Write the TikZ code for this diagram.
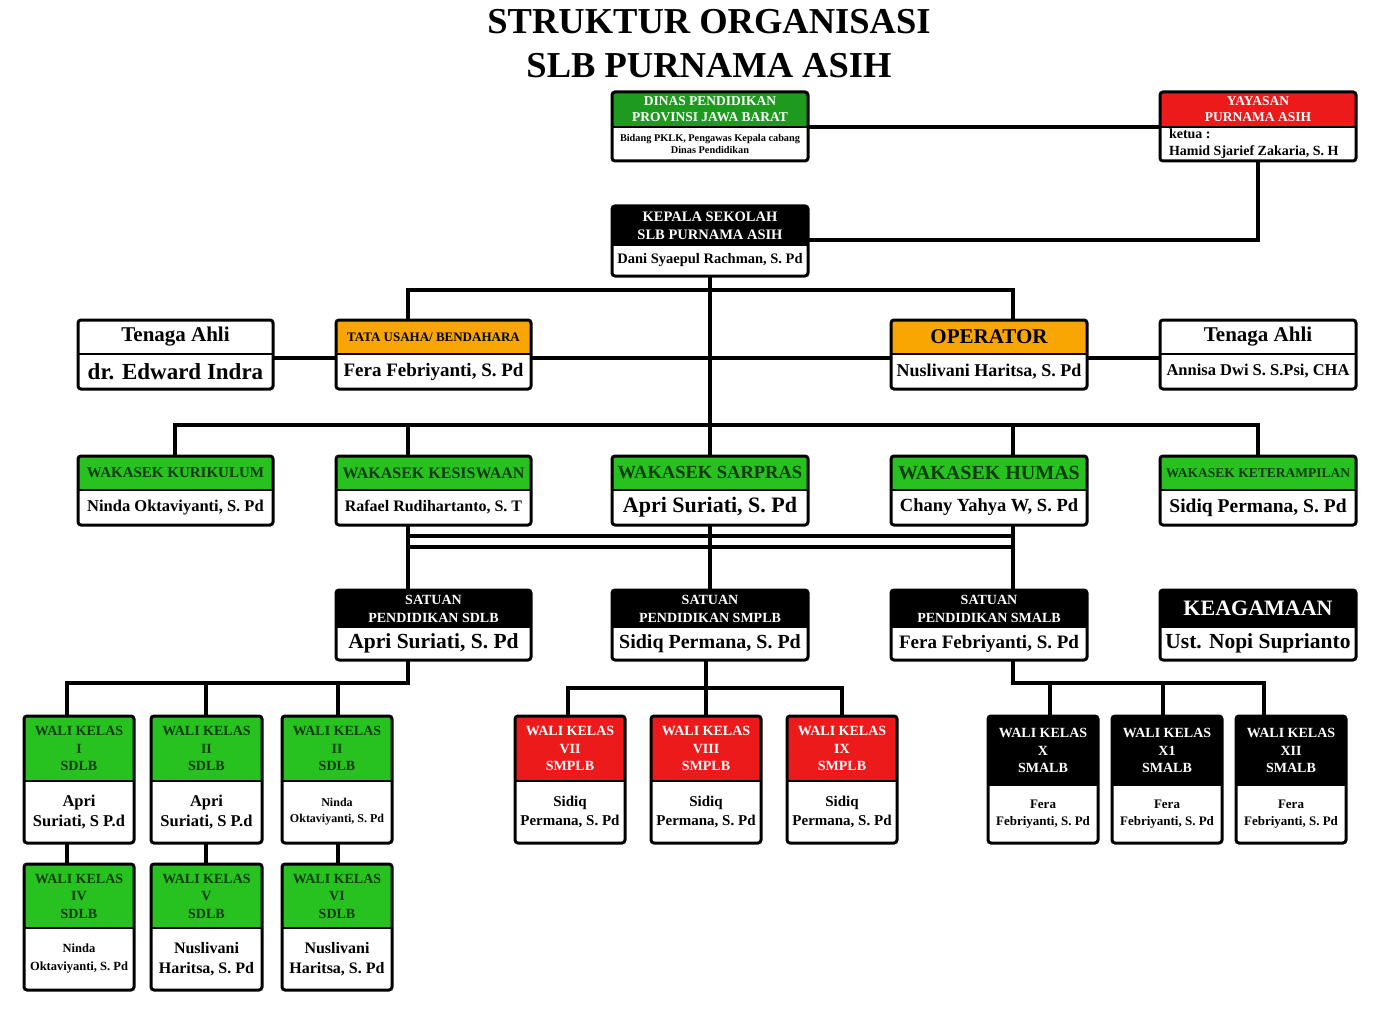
\documentclass[tikz,border=0pt]{standalone}
\usepackage{fontspec}
\setmainfont{Liberation Serif}
\usetikzlibrary{positioning}
\definecolor{grnA}{HTML}{1E9B1E}
\definecolor{grnB}{HTML}{27C21F}
\definecolor{grnT}{HTML}{0E3A0E}
\definecolor{redA}{HTML}{EC1A1A}
\definecolor{orgA}{HTML}{F9A602}
\newcommand{\fz}[2]{\fontsize{#1}{#2}\selectfont\bfseries}
% name, position, width, head options, body options, head text, body text
\newcommand{\orgbox}[7]{%
  \node[hd,minimum width=#3pt,anchor=north,#4] (#1h) at #2 {#6};
  \node[bd,minimum width=#3pt,below=0pt of #1h,#5] (#1) {#7};
  \draw[boxline] (#1h.north west) rectangle (#1.south east);
  \draw[divline] (#1h.south west) -- (#1h.south east);
}

\begin{document}
\begin{tikzpicture}[x=1pt,y=-1pt,
  hd/.style={inner sep=0pt,outer sep=0pt,align=center},
  bd/.style={inner sep=0pt,outer sep=0pt,align=center,fill=white},
  boxline/.style={draw,line width=3pt,rounded corners=3pt},
  divline/.style={line width=2.5pt},
  wire/.style={line width=3.5pt}]
\useasboundingbox (0,0) rectangle (1379,1011);

\node[font=\fz{36.5}{44},align=center] (title) at (709,44) {STRUKTUR ORGANISASI\\SLB PURNAMA ASIH};

% top
\orgbox{dinas}{(710,92)}{196}{fill=grnA,text=white,minimum height=35pt,font=\fz{13.5}{16}}
  {minimum height=34pt,font=\fz{10.3}{12}}
  {DINAS PENDIDIKAN\\PROVINSI JAWA BARAT}{Bidang PKLK, Pengawas Kepala cabang\\Dinas Pendidikan}
\orgbox{yay}{(1258,92)}{196}{fill=redA,text=white,minimum height=35pt,font=\fz{13.5}{16}}
  {minimum height=34pt,font=\fz{14}{17}}
  {YAYASAN\\PURNAMA ASIH}{\begin{minipage}{178pt}ketua :\\Hamid Sjarief Zakaria, S. H\end{minipage}}
\orgbox{kep}{(710,206)}{196}{fill=black,text=white,minimum height=39pt,font=\fz{14.5}{18}}
  {minimum height=31pt,font=\fz{14.5}{16}}
  {KEPALA SEKOLAH\\SLB PURNAMA ASIH}{Dani Syaepul Rachman, S. Pd}

% staff
\orgbox{tal}{(175.5,320)}{195}{fill=white,minimum height=34pt,font=\fz{21}{24}}
  {minimum height=35pt,font=\fz{23}{26}}{Tenaga Ahli}{dr. Edward Indra}
\orgbox{tu}{(433.5,320)}{195}{fill=orgA,minimum height=34pt,font=\fz{13}{16}}
  {minimum height=35pt,font=\fz{19}{22}}{TATA USAHA/ BENDAHARA}{Fera Febriyanti, S. Pd}
\orgbox{op}{(989,320)}{196}{fill=orgA,minimum height=34pt,font=\fz{21}{24}}
  {minimum height=35pt,font=\fz{18}{21}}{OPERATOR}{Nuslivani Haritsa, S. Pd}
\orgbox{tar}{(1258,320)}{196}{fill=white,minimum height=34pt,font=\fz{21}{24}}
  {minimum height=35pt,font=\fz{16.5}{20}}{Tenaga Ahli}{Annisa Dwi S. S.Psi, CHA}

% wakasek
\orgbox{wk1}{(175.5,456)}{195}{fill=grnB,text=grnT,minimum height=34pt,font=\fz{15}{18}}
  {minimum height=35pt,font=\fz{16.5}{20}}{WAKASEK KURIKULUM}{Ninda Oktaviyanti, S. Pd}
\orgbox{wk2}{(433.5,456)}{195}{fill=grnB,text=grnT,minimum height=34pt,font=\fz{16}{18}}
  {minimum height=35pt,font=\fz{16}{20}}{WAKASEK KESISWAAN}{Rafael Rudihartanto, S. T}
\orgbox{wk3}{(710,456)}{196}{fill=grnB,text=grnT,minimum height=34pt,font=\fz{18.5}{20}}
  {minimum height=35pt,font=\fz{22}{24}}{WAKASEK SARPRAS}{Apri Suriati, S. Pd}
\orgbox{wk4}{(989,456)}{196}{fill=grnB,text=grnT,minimum height=34pt,font=\fz{20}{22}}
  {minimum height=35pt,font=\fz{18.5}{21}}{WAKASEK HUMAS}{Chany Yahya W, S. Pd}
\orgbox{wk5}{(1258,456)}{196}{fill=grnB,text=grnT,minimum height=34pt,font=\fz{13.5}{16}}
  {minimum height=35pt,font=\fz{19.5}{22}}{WAKASEK KETERAMPILAN}{Sidiq Permana, S. Pd}

% satuan
\orgbox{sd}{(433.5,590)}{195}{fill=black,text=white,minimum height=37pt,font=\fz{14}{18}}
  {minimum height=33pt,font=\fz{21.5}{24}}{SATUAN\\PENDIDIKAN SDLB}{Apri Suriati, S. Pd}
\orgbox{smp}{(710,590)}{196}{fill=black,text=white,minimum height=37pt,font=\fz{14}{18}}
  {minimum height=33pt,font=\fz{20}{23}}{SATUAN\\PENDIDIKAN SMPLB}{Sidiq Permana, S. Pd}
\orgbox{sma}{(989,590)}{196}{fill=black,text=white,minimum height=37pt,font=\fz{14}{18}}
  {minimum height=33pt,font=\fz{19}{22}}{SATUAN\\PENDIDIKAN SMALB}{Fera Febriyanti, S. Pd}
\orgbox{kea}{(1258,590)}{196}{fill=black,text=white,minimum height=37pt,font=\fz{22}{24}}
  {minimum height=33pt,font=\fz{21.5}{24}}{KEAGAMAAN}{Ust. Nopi Suprianto}

% wali kelas SDLB
\orgbox{w1}{(79,716)}{110}{fill=grnB,text=grnT,minimum height=65pt,font=\fz{14}{17.5}}
  {minimum height=62pt,font=\fz{16.5}{20}}{WALI KELAS\\I\\SDLB}{Apri\\Suriati, S P.d}
\orgbox{w2}{(206.5,716)}{111}{fill=grnB,text=grnT,minimum height=65pt,font=\fz{14}{17.5}}
  {minimum height=62pt,font=\fz{16.5}{20}}{WALI KELAS\\II\\SDLB}{Apri\\Suriati, S P.d}
\orgbox{w3}{(337,716)}{110}{fill=grnB,text=grnT,minimum height=65pt,font=\fz{14}{17.5}}
  {minimum height=62pt,font=\fz{12}{16}}{WALI KELAS\\II\\SDLB}{Ninda\\Oktaviyanti, S. Pd}
\orgbox{w4}{(79,864)}{110}{fill=grnB,text=grnT,minimum height=64pt,font=\fz{14}{17.5}}
  {minimum height=62pt,font=\fz{12.5}{18}}{WALI KELAS\\IV\\SDLB}{Ninda\\Oktaviyanti, S. Pd}
\orgbox{w5}{(206.5,864)}{111}{fill=grnB,text=grnT,minimum height=64pt,font=\fz{14}{17.5}}
  {minimum height=62pt,font=\fz{16}{20}}{WALI KELAS\\V\\SDLB}{Nuslivani\\Haritsa, S. Pd}
\orgbox{w6}{(337,864)}{110}{fill=grnB,text=grnT,minimum height=64pt,font=\fz{14}{17.5}}
  {minimum height=62pt,font=\fz{16}{20}}{WALI KELAS\\VI\\SDLB}{Nuslivani\\Haritsa, S. Pd}

% wali kelas SMPLB
\orgbox{w7}{(570,716)}{110}{fill=redA,text=white,minimum height=65pt,font=\fz{14}{17.5}}
  {minimum height=62pt,font=\fz{15}{19}}{WALI KELAS\\VII\\SMPLB}{Sidiq\\Permana, S. Pd}
\orgbox{w8}{(706,716)}{110}{fill=redA,text=white,minimum height=65pt,font=\fz{14}{17.5}}
  {minimum height=62pt,font=\fz{15}{19}}{WALI KELAS\\VIII\\SMPLB}{Sidiq\\Permana, S. Pd}
\orgbox{w9}{(842,716)}{110}{fill=redA,text=white,minimum height=65pt,font=\fz{14}{17.5}}
  {minimum height=62pt,font=\fz{15}{19}}{WALI KELAS\\IX\\SMPLB}{Sidiq\\Permana, S. Pd}

% wali kelas SMALB
\orgbox{w10}{(1043,716)}{110}{fill=black,text=white,minimum height=69pt,font=\fz{14}{17.5}}
  {minimum height=58pt,font=\fz{13}{17}}{WALI KELAS\\X\\SMALB}{Fera\\Febriyanti, S. Pd}
\orgbox{w11}{(1167,716)}{110}{fill=black,text=white,minimum height=69pt,font=\fz{14}{17.5}}
  {minimum height=58pt,font=\fz{13}{17}}{WALI KELAS\\X1\\SMALB}{Fera\\Febriyanti, S. Pd}
\orgbox{w12}{(1291,716)}{110}{fill=black,text=white,minimum height=69pt,font=\fz{14}{17.5}}
  {minimum height=58pt,font=\fz{13}{17}}{WALI KELAS\\XII\\SMALB}{Fera\\Febriyanti, S. Pd}

% junctions
\coordinate (a1) at (408,290);  \coordinate (a2) at (1013,290);
\coordinate (b0) at (0,358);
\coordinate (c1) at (175,425);  \coordinate (c2) at (408,425);
\coordinate (c4) at (1013,425); \coordinate (c5) at (1258,425);
\coordinate (d1) at (408,536);  \coordinate (d2) at (1013,536);
\coordinate (e1) at (408,547);  \coordinate (e2) at (1013,547);
\coordinate (f1) at (67,683);   \coordinate (f2) at (206,683);
\coordinate (f3) at (338,683);  \coordinate (f4) at (408,683);
\coordinate (g1) at (568,688);  \coordinate (g2) at (706,688);
\coordinate (g3) at (842,688);
\coordinate (k1) at (1050,683); \coordinate (k2) at (1163,683);
\coordinate (k3) at (1264,683); \coordinate (k0) at (1013,683);

% connectors
\draw[wire] (dinash.south east) -- (yayh.south west);
\draw[wire] (yay.south) |- ([yshift=5pt]keph.south east);
\draw[wire] (kep.south) -- (wk3h.north);
\draw[wire] (a1 |- tuh.north) -- (a1) -- (a2) -- (a2 |- oph.north);
\draw[wire] (tal.east |- b0) -- (tu.west |- b0);
\draw[wire] (tu.east |- b0) -- (op.west |- b0);
\draw[wire] (op.east |- b0) -- (tar.west |- b0);
\draw[wire] (c1 |- wk1h.north) -- (c1) -- (c5) -- (c5 |- wk5h.north);
\draw[wire] (c2) -- (c2 |- wk2h.north);
\draw[wire] (c4) -- (c4 |- wk4h.north);
\draw[wire] (e1 |- wk2.south) -- (e1 |- sdh.north);
\draw[wire] (e2 |- wk4.south) -- (e2 |- smah.north);
\draw[wire] (d1) -- (d2);
\draw[wire] (e1) -- (e2);
\draw[wire] (wk3.south) -- (smph.north);
\draw[wire] (f4 |- sd.south) -- (f4) -- (f1) -- (f1 |- w1h.north);
\draw[wire] (f2) -- (f2 |- w2h.north);
\draw[wire] (f3) -- (f3 |- w3h.north);
\draw[wire] (f1 |- w1.south) -- (f1 |- w4h.north);
\draw[wire] (f2 |- w2.south) -- (f2 |- w5h.north);
\draw[wire] (f3 |- w3.south) -- (f3 |- w6h.north);
\draw[wire] (g2 |- smp.south) -- (g2);
\draw[wire] (g1 |- w7h.north) -- (g1) -- (g3) -- (g3 |- w9h.north);
\draw[wire] (g2) -- (g2 |- w8h.north);
\draw[wire] (k0 |- sma.south) -- (k0) -- (k3) -- (k3 |- w12h.north);
\draw[wire] (k1) -- (k1 |- w10h.north);
\draw[wire] (k2) -- (k2 |- w11h.north);
\end{tikzpicture}
\end{document}
